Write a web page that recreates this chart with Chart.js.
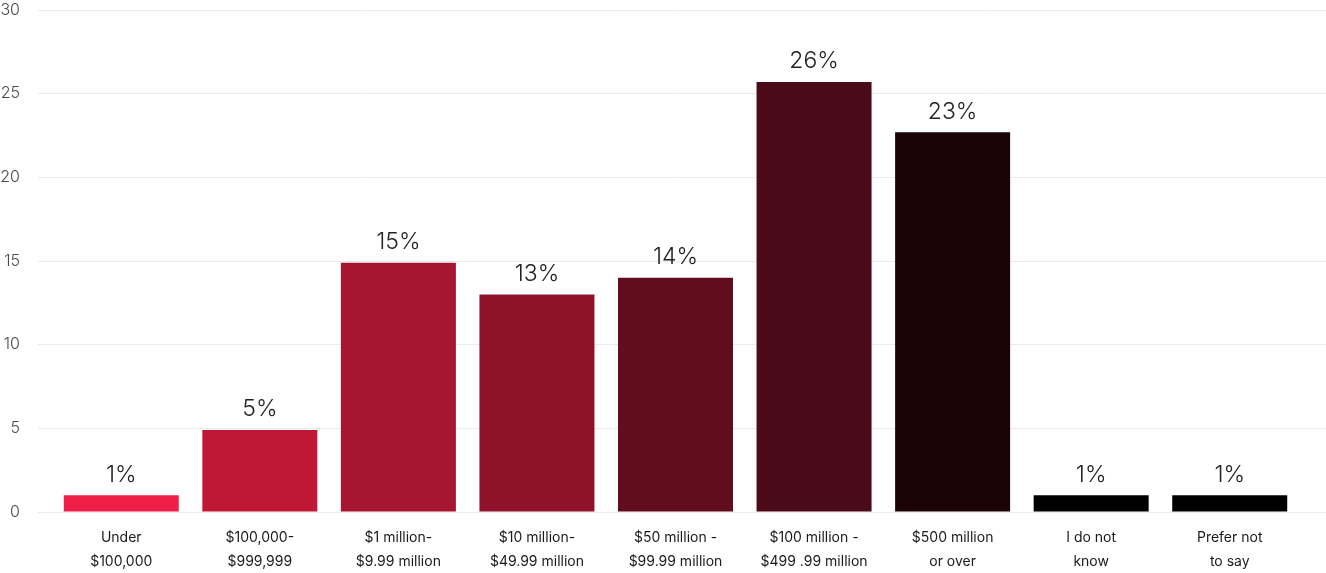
<!DOCTYPE html>
<html>
<head>
<meta charset="utf-8">
<script src="https://cdn.jsdelivr.net/npm/chart.js@4.4.1/dist/chart.umd.min.js"></script>
<style>
    html, body { margin: 0; padding: 0; background: #fff; }
    #wrap { width: 1326px; height: 573px; }
</style>
</head>
<body>
<div id="wrap"><canvas id="revenue-chart"></canvas></div>
<script>
    "use strict";

    // Data
    var categories = [
        ["Under", "$100,000"],
        ["$100,000-", "$999,999"],
        ["$1 million-", "$9.99 million"],
        ["$10 million-", "$49.99 million"],
        ["$50 million -", "$99.99 million"],
        ["$100 million -", "$499 .99 million"],
        ["$500 million", "or over"],
        ["I do not", "know"],
        ["Prefer not", "to say"]
    ];
    var shares = [1, 4.9, 14.9, 13, 14, 25.7, 22.7, 1, 1];
    var shareLabels = ["1%", "5%", "15%", "13%", "14%", "26%", "23%", "1%", "1%"];
    var barColors = ["#ee1f48", "#bf1836", "#a71630", "#8e1229", "#620d1e", "#4a0a17", "#1b0306", "#000000", "#000000"];
    var yTicks = [0, 5, 10, 15, 20, 25, 30];

    var gridColor = "#ebebeb";
    var fontFamily = "Inter, 'Noto Sans', sans-serif";

    // Percent labels above bars
    var barLabels = {
        id: "barLabels",
        afterDatasetsDraw: function (chart) {
            var ctx = chart.ctx;
            var meta = chart.getDatasetMeta(0);
            ctx.save();
            ctx.font = "300 23px " + fontFamily;
            ctx.fillStyle = "#222";
            ctx.textAlign = "center";
            ctx.textBaseline = "bottom";
            meta.data.forEach(function (bar, i) {
                ctx.fillText(shareLabels[i], bar.x, bar.y - 9);
            });
            ctx.restore();
        }
    };

    // Fixed axis sizes
    var fixWidth = function (w) {
        return function (axis) {
            axis.width = w;
            axis.paddingTop = 0;
            axis.paddingBottom = 0;
        };
    };
    var setTicks = function (axis) {
        axis.ticks = yTicks.map(function (v) { return { value: v }; });
    };

    var ctx1 = document.getElementById("revenue-chart").getContext("2d");
    var myChart1 = new Chart(ctx1, {
        type: "bar",
        data: {
            labels: categories,
            datasets: [{
                data: shares,
                backgroundColor: barColors,
                barPercentage: 0.83,
                categoryPercentage: 1
            }]
        },
        options: {
            responsive: true,
            maintainAspectRatio: false,
            animation: false,
            layout: { padding: { top: 10, right: 0, bottom: 0, left: 0 } },
            plugins: {
                legend: { display: false },
                tooltip: { enabled: false }
            },
            scales: {
                x: {
                    afterFit: function (axis) {
                        axis.height = 61;
                        axis.paddingLeft = 0;
                        axis.paddingRight = 0;
                    },
                    grid: { display: false, drawTicks: false },
                    border: { display: false },
                    ticks: {
                        padding: 14,
                        color: "#1a1a1a",
                        font: { family: fontFamily, size: 14, lineHeight: 1.72 }
                    }
                },
                y: {
                    min: 0,
                    max: 30,
                    afterBuildTicks: setTicks,
                    afterFit: fixWidth(52),
                    grid: { color: gridColor, tickLength: 14, tickColor: gridColor },
                    border: { display: false },
                    ticks: {
                        padding: 18,
                        color: "#4a4a4a",
                        font: { family: fontFamily, size: 16, weight: "300" }
                    }
                },
                yRight: {
                    position: "right",
                    min: 0,
                    max: 30,
                    afterBuildTicks: setTicks,
                    afterFit: fixWidth(27),
                    grid: { drawOnChartArea: false, tickLength: 27, tickColor: gridColor },
                    border: { display: false },
                    ticks: { display: false }
                }
            }
        },
        plugins: [barLabels]
    });
</script>
</body>
</html>
